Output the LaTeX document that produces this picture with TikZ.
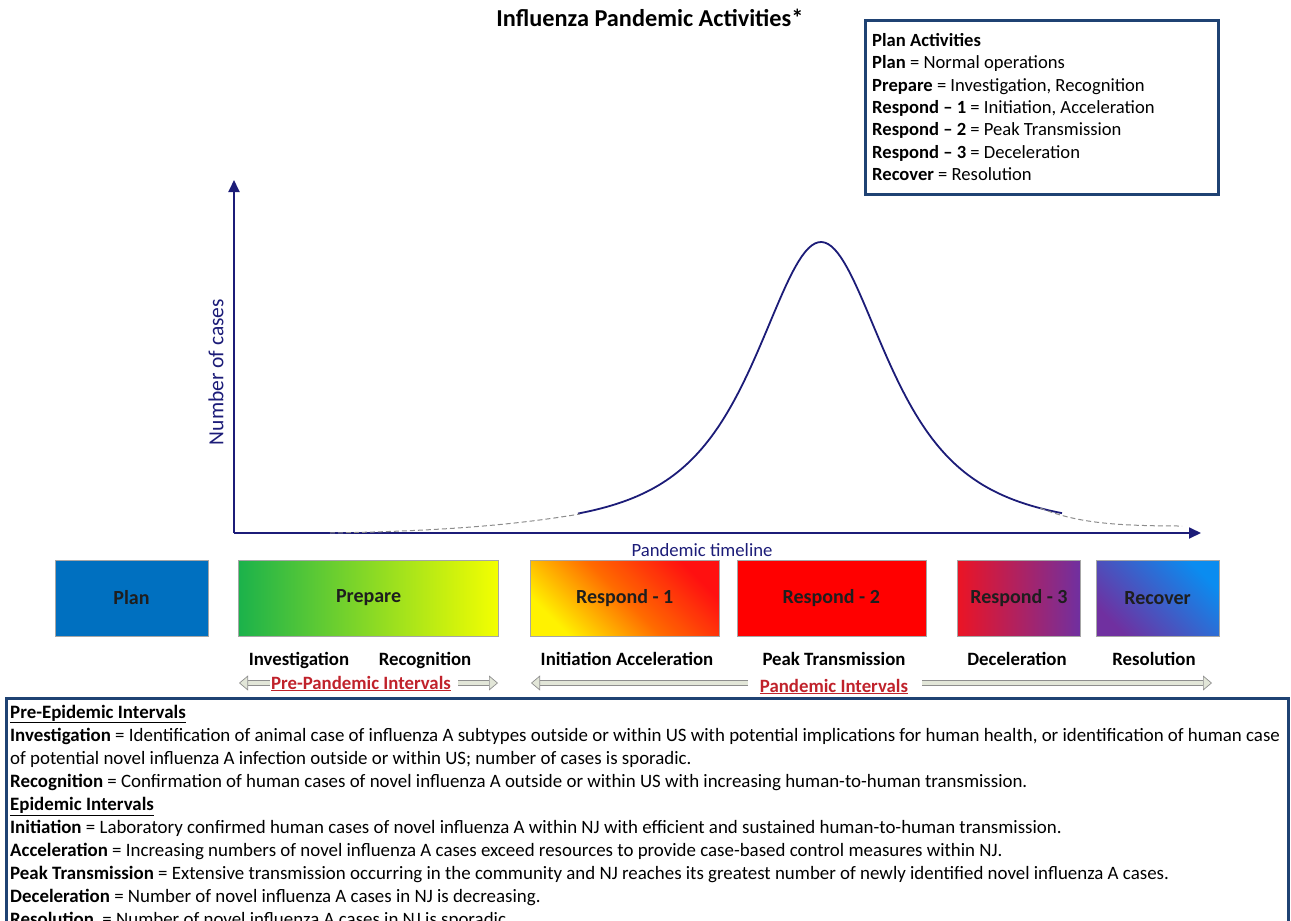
\documentclass[tikz,border=0pt]{standalone}
\usepackage{fontspec}
\setmainfont{Carlito}
\usetikzlibrary{arrows.meta, positioning}
\definecolor{axisnavy}{HTML}{1C1C78}
\definecolor{framedark}{HTML}{1F4273}
\definecolor{intervalred}{HTML}{C0222B}
\definecolor{arrowfill}{HTML}{E2E6D8}
\definecolor{arrowline}{HTML}{8E8E8E}
\definecolor{planblue}{HTML}{0070C0}
\definecolor{preparegreen}{HTML}{1BB24B}
\definecolor{prepareyellow}{HTML}{F4FF00}
\definecolor{respyellow}{HTML}{FFF200}
\definecolor{resporange}{HTML}{FF6A00}
\definecolor{respred}{HTML}{FF1010}
\definecolor{peakred}{HTML}{FF0000}
\definecolor{decelred}{HTML}{EC1424}
\definecolor{phasepurple}{HTML}{7030A0}
\definecolor{recoverblue}{HTML}{0A8CF0}
\definecolor{labeldark}{HTML}{1E1E1E}

\begin{document}
\begin{tikzpicture}[
  x=1pt, y=-1pt,
  phase/.style = {rectangle, draw=gray!70, line width=0.6pt, minimum height=76pt,
                  inner sep=0pt, font=\fontsize{20}{22}\selectfont\bfseries, text=labeldark},
  sublabel/.style = {anchor=base, font=\fontsize{18.8}{22}\selectfont\bfseries},
  interval/.style = {anchor=base, text=intervalred, font=\fontsize{18.8}{22}\selectfont\bfseries},
  framebox/.style = {rectangle, draw=framedark, line width=3pt, inner sep=0pt, anchor=north west},
  deftext/.style = {anchor=base west, inner sep=0pt, font=\fontsize{18.9}{22}\selectfont},
  acttext/.style = {anchor=base west, inner sep=0pt, font=\fontsize{18.6}{22}\selectfont},
  axis/.style = {draw=axisnavy, line width=1.8pt, -{Triangle[length=12pt, width=11pt]}},
  curve/.style = {draw=axisnavy, line width=1.8pt},
  tail/.style = {draw=gray!90, line width=1pt, dash pattern=on 5pt off 3pt},
  intarrow/.style = {draw=arrowline, line width=0.7pt, double=arrowfill, double distance=4.5pt,
                     -{Triangle[length=9pt, width=15pt, fill=arrowfill, line width=0.7pt]}},
]
  \useasboundingbox (0,0) rectangle (1291,921);
  \clip (0,0) rectangle (1291,921);

  % title
  \node[anchor=base, font=\fontsize{24.3}{28}\selectfont\bfseries] (title) at (650,26) {Influenza Pandemic Activities*};

  % plan activities legend
  \node[framebox, minimum width=353pt, minimum height=174pt] (legend) at (864,19) {};
  \foreach \txt [count=\i] in {
    {\textbf{Plan Activities}},
    {\textbf{Plan} = Normal operations},
    {\textbf{Prepare} = Investigation, Recognition},
    {\textbf{Respond – 1} = Initiation, Acceleration},
    {\textbf{Respond – 2} = Peak Transmission},
    {\textbf{Respond – 3} = Deceleration},
    {\textbf{Recover} = Resolution}}
    \node[acttext] (act-\i) at (872, {46.5+22.35*(\i-1)}) {\txt};

  % axes
  \coordinate (origin) at (234,533);
  \coordinate (ytip) at (234,180);
  \coordinate (xtip) at (1201,533);
  \draw[axis] (origin) -- (ytip);
  \draw[axis] (origin) -- (xtip);
  \node[rotate=90, text=axisnavy, font=\fontsize{21.5}{24}\selectfont] (ylabel) at (216,372) {Number of cases};
  \node[anchor=base, text=axisnavy, font=\fontsize{18.7}{22}\selectfont] (xlabel) at (702,556) {Pandemic timeline};

  % epidemic curve
  \draw[curve] plot[domain=578:1062, samples=150] (\x, {533-291/(1+((\x-821)/100)^2)^1.4});
  \draw[tail] (330,533) .. controls (450,531) and (520,524) .. (580,514);
  \draw[tail] (1040,508) .. controls (1075,522) and (1110,526) .. (1182,526);

  % phases
  \node[phase, minimum width=153pt, fill=planblue] (plan) at (131.5,598) {Plan};
  \node[phase, minimum width=260pt, left color=preparegreen, right color=prepareyellow,
        right=30pt of plan] (prepare) {\raisebox{-7pt}{Prepare}};
  \node[phase, minimum width=189pt, top color=respred, bottom color=respyellow,
        middle color=resporange, shading angle=-45, right=31pt of prepare] (respond1) {Respond - 1};
  \node[phase, minimum width=189pt, fill=peakred, right=17pt of respond1] (respond2) {Respond - 2};
  \node[phase, minimum width=123pt, left color=decelred, right color=phasepurple,
        right=31pt of respond2] (respond3) {Respond - 3};
  \node[phase, minimum width=123pt, top color=recoverblue, bottom color=phasepurple,
        shading angle=-45, right=15pt of respond3] (recover) {Recover};

  % interval labels
  \node[sublabel] (investigation) at (299,665) {Investigation};
  \node[sublabel] (recognition) at (425,665) {Recognition};
  \node[sublabel] (initiation) at (627,665) {Initiation Acceleration};
  \node[sublabel] (peak) at (834,665) {Peak Transmission};
  \node[sublabel] (deceleration) at (1017,665) {Deceleration};
  \node[sublabel] (resolution) at (1154,665) {Resolution};

  \node[interval] (prepandemic) at (361,689) {\underline{Pre-Pandemic Intervals}};
  \node[interval] (pandemic) at (834,692) {\underline{Pandemic Intervals}};
  \coordinate (pre-a) at (270,683);
  \coordinate (pre-b) at (239,683);
  \coordinate (pre-c) at (458,683);
  \coordinate (pre-d) at (498,683);
  \coordinate (pan-a) at (748,683);
  \coordinate (pan-b) at (531,683);
  \coordinate (pan-c) at (922,683);
  \coordinate (pan-d) at (1212,683);
  \draw[intarrow] (pre-a) -- (pre-b);
  \draw[intarrow] (pre-c) -- (pre-d);
  \draw[intarrow] (pan-a) -- (pan-b);
  \draw[intarrow] (pan-c) -- (pan-d);

  % definitions
  \node[framebox, minimum width=1282pt, minimum height=320pt] (defbox) at (5,697) {};
  \foreach \txt [count=\i] in {
    {\underline{\textbf{Pre-Epidemic Intervals}}},
    {\textbf{Investigation} = Identification of animal case of influenza A subtypes outside or within US with potential implications for human health, or identification of human case},
    {of potential novel influenza A infection outside or within US; number of cases is sporadic.},
    {\textbf{Recognition} = Confirmation of human cases of novel influenza A outside or within US with increasing human-to-human transmission.},
    {\underline{\textbf{Epidemic Intervals}}},
    {\textbf{Initiation} = Laboratory confirmed human cases of novel influenza A within NJ with efficient and sustained human-to-human transmission.},
    {\textbf{Acceleration} = Increasing numbers of novel influenza A cases exceed resources to provide case-based control measures within NJ.},
    {\textbf{Peak Transmission} = Extensive transmission occurring in the community and NJ reaches its greatest number of newly identified novel influenza A cases.},
    {\textbf{Deceleration} = Number of novel influenza A cases in NJ is decreasing.},
    {\textbf{Resolution}\ \ = Number of novel influenza A cases in NJ is sporadic.}}
    \node[deftext] (def-\i) at (10, {718+23.1*(\i-1)}) {\txt};
\end{tikzpicture}
\end{document}
